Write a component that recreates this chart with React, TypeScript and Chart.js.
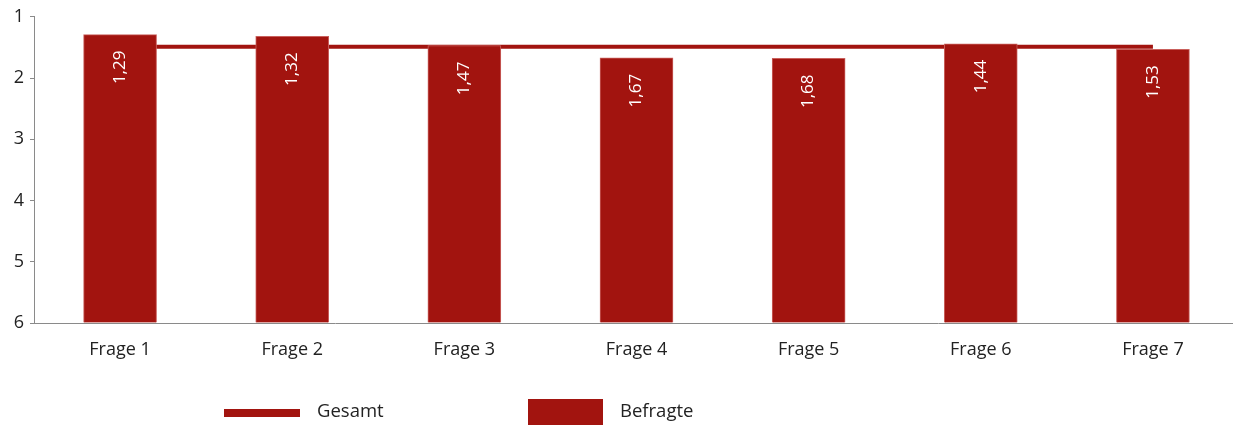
import React, { useEffect, useRef } from "react";
import { Chart, registerables } from "chart.js";

Chart.register(...registerables);

const categories = ["Frage 1", "Frage 2", "Frage 3", "Frage 4", "Frage 5", "Frage 6", "Frage 7"];
const befragte = [1.29, 1.32, 1.47, 1.67, 1.68, 1.44, 1.53];
const gesamt = [1.49, 1.49, 1.49, 1.49, 1.49, 1.49, 1.49];
const yTicks = [1, 2, 3, 4, 5, 6];

const RED = "#A2140F";
const FONT = "'Open Sans', 'DejaVu Sans', sans-serif";

const barLabels = {
  id: "barLabels",
  afterDatasetsDraw(chart: any) {
    const meta = chart.getDatasetMeta(1);
    const ctx = chart.ctx;
    ctx.save();
    ctx.fillStyle = "#ffffff";
    ctx.font = `17px ${FONT}`;
    ctx.textAlign = "right";
    ctx.textBaseline = "middle";
    meta.data.forEach((el: any, i: number) => {
      ctx.save();
      ctx.translate(el.x, el.y + 16);
      ctx.rotate(-Math.PI / 2);
      ctx.fillText(befragte[i].toFixed(2).replace(".", ","), 0, 0);
      ctx.restore();
    });
    ctx.restore();
  },
};

const customLegend = {
  id: "customLegend",
  afterDraw(chart: any) {
    const ctx = chart.ctx;
    ctx.save();
    ctx.fillStyle = RED;
    ctx.fillRect(224, 409, 76, 8);
    ctx.fillRect(528, 399, 75, 26);
    ctx.fillStyle = "#222222";
    ctx.font = `18.5px ${FONT}`;
    ctx.textAlign = "left";
    ctx.textBaseline = "middle";
    ctx.fillText("Gesamt", 317, 412);
    ctx.fillText("Befragte", 620, 412);
    ctx.restore();
  },
};

export default function App() {
  const ref = useRef<HTMLCanvasElement>(null);
  useEffect(() => {
    document.body.style.margin = "0";
    const chart = new Chart(ref.current!, {
      type: "bar",
      data: {
        labels: categories,
        datasets: [
          {
            type: "line",
            label: "Gesamt",
            data: gesamt,
            borderColor: RED,
            borderWidth: 4,
            pointRadius: 0,
            order: 2,
          } as any,
          {
            type: "bar",
            label: "Befragte",
            data: befragte,
            base: 6,
            backgroundColor: RED,
            borderColor: "#c9605c",
            borderWidth: 1,
            barThickness: 73,
            order: 1,
          } as any,
        ],
      },
      options: {
        responsive: false,
        animation: false,
        layout: { padding: { top: 14, right: 0, left: 0, bottom: 0 } },
        plugins: { legend: { display: false }, tooltip: { enabled: false } },
        scales: {
          x: {
            grid: { display: false },
            border: { display: true, color: "#8a8a8a", width: 1 },
            ticks: { color: "#222", font: { family: FONT, size: 18 }, padding: 8 },
            afterFit(scale: any) {
              scale.height = 102;
            },
          },
          y: {
            reverse: true,
            min: 1,
            max: 6,
            afterBuildTicks(scale: any) {
              scale.ticks = yTicks.map((v) => ({ value: v }));
            },
            grid: { drawOnChartArea: false, tickLength: 4, color: "#8a8a8a" },
            border: { display: true, color: "#8a8a8a", width: 1 },
            ticks: { color: "#222", font: { family: FONT, size: 18 }, padding: 6 },
            afterFit(scale: any) {
              scale.width = 34;
            },
          },
        },
      },
      plugins: [barLabels, customLegend],
    });
    return () => chart.destroy();
  }, []);
  return (
    <div style={{ width: 1233, height: 425, overflow: "hidden" }}>
      <canvas ref={ref} width={1239} height={425} />
    </div>
  );
}
